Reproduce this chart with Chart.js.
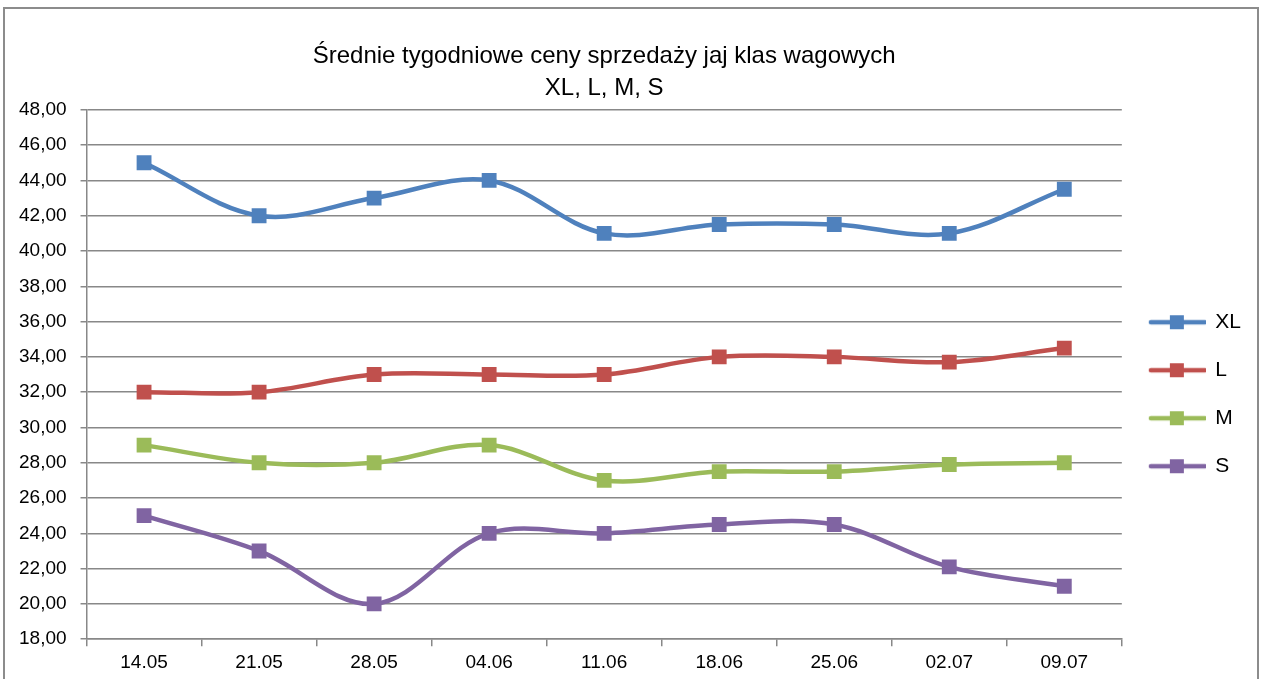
<!DOCTYPE html>
<html lang="pl">
<head>
    <meta charset="UTF-8">
    <script src="https://cdn.jsdelivr.net/npm/chart.js"></script>
    <title>Średnie tygodniowe ceny</title>
    <style>
        body { margin: 0; background: #fff; }
        #box { position: absolute; left: 3px; top: 7px; width: 1252px; height: 670px; border: 2px solid #8c8c8c; border-bottom: none; }
    </style>
</head>
<body>
    <div id="box">
        <canvas id="myChart"></canvas>
    </div>

    <script>
        const weeks = ['14.05', '21.05', '28.05', '04.06', '11.06', '18.06', '25.06', '02.07', '09.07'];
        const xl = [45, 42, 43, 44, 41, 41.5, 41.5, 41, 43.5];
        const l  = [32, 32, 33, 33, 33, 34, 34, 33.7, 34.5];
        const m  = [29, 28, 28, 29, 27, 27.5, 27.5, 27.9, 28];
        const s  = [25, 23, 20, 24, 24, 24.5, 24.5, 22.1, 21];

        const font = 'Liberation Sans, Arial, sans-serif';

        // small line + square picture for the legend
        function legendIcon(color) {
            const c = document.createElement('canvas');
            c.width = 58; c.height = 16;
            const g = c.getContext('2d');
            g.strokeStyle = color; g.lineWidth = 4.5; g.lineCap = 'round';
            g.beginPath(); g.moveTo(3, 8); g.lineTo(57, 8); g.stroke();
            g.fillStyle = color;
            g.fillRect(22, 1, 14, 14);
            return c;
        }

        function series(label, data, color) {
            return {
                label: label,
                data: data,
                borderColor: color,
                backgroundColor: color,
                borderWidth: 4.5,
                tension: 0.35,
                pointStyle: 'rect',
                pointRadius: 10.5,
                pointHoverRadius: 10.5,
                pointBorderWidth: 0,
                pointBackgroundColor: color,
                legendIcon: legendIcon(color)
            };
        }

        const chartData = {
            labels: weeks,
            datasets: [
                series('XL', xl, '#4f81bd'),
                series('L', l, '#c0504d'),
                series('M', m, '#9bbb59'),
                series('S', s, '#8064a2')
            ]
        };

        const ctx = document.getElementById('myChart').getContext('2d');
        const myChart = new Chart(ctx, {
            type: 'line',
            data: chartData,
            options: {
                responsive: true,
                maintainAspectRatio: false,
                animation: false,
                layout: { padding: { left: 0, right: 6, top: 0, bottom: 0 } },
                plugins: {
                    title: {
                        display: true,
                        fullSize: false,
                        text: ['Średnie tygodniowe ceny sprzedaży jaj klas wagowych', 'XL, L, M, S'],
                        color: '#000',
                        font: { family: font, size: 24, weight: 'normal', lineHeight: 1.33 },
                        padding: { top: 31, bottom: 6 }
                    },
                    legend: {
                        position: 'right',
                        title: { display: true, text: '', padding: { top: 0, bottom: 86 } },
                        labels: {
                            color: '#000',
                            font: { family: font, size: 21 },
                            usePointStyle: true,
                            pointStyleWidth: 56,
                            padding: 27,
                            generateLabels: function(chart) {
                                return chart.data.datasets.map(function(ds, i) {
                                    return {
                                        text: ds.label,
                                        pointStyle: ds.legendIcon,
                                        fillStyle: ds.borderColor,
                                        strokeStyle: ds.borderColor,
                                        lineWidth: 0,
                                        fontColor: '#000',
                                        datasetIndex: i
                                    };
                                });
                            }
                        }
                    },
                    tooltip: { enabled: false }
                },
                scales: {
                    x: {
                        offset: true,
                        grid: { display: true, drawOnChartArea: false, drawTicks: true, tickLength: 7, color: '#888', lineWidth: 1.5, offset: true },
                        border: { display: true, color: '#888', width: 1.5 },
                        ticks: { color: '#000', font: { family: font, size: 19 }, padding: 5, maxRotation: 0 }
                    },
                    y: {
                        min: 18,
                        max: 48,
                        grid: { color: '#888', lineWidth: 1.5, tickLength: 6 },
                        border: { display: true, color: '#888', width: 1.5 },
                        ticks: {
                            stepSize: 2,
                            color: '#000',
                            font: { family: font, size: 19 },
                            padding: 14,
                            callback: function(v) { return v.toFixed(2).replace('.', ','); }
                        }
                    }
                }
            }
        });
    </script>
</body>
</html>
